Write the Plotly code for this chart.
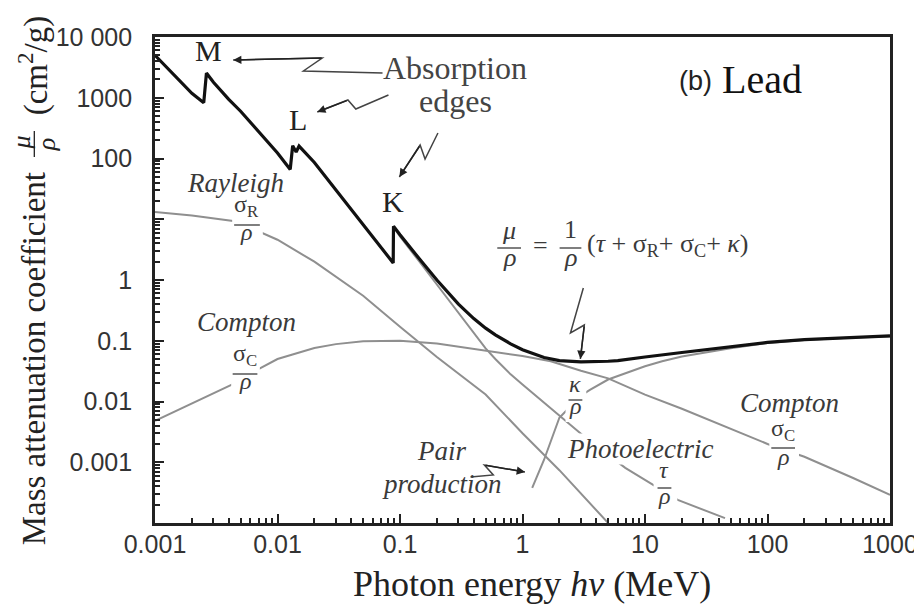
import plotly.graph_objects as go

# ---------------- data ----------------
E_total = [0.001, 0.0015, 0.002, 0.0025, 0.00263, 0.003, 0.004, 0.005, 0.006, 0.008, 0.01,
           0.0127, 0.0133, 0.0142, 0.0150, 0.02, 0.03, 0.04, 0.05, 0.06, 0.08, 0.088, 0.0885,
           0.1, 0.15, 0.2, 0.3, 0.4, 0.5, 0.6, 0.8, 1, 1.5, 2, 3, 4, 5, 6, 8, 10, 20, 30, 50,
           100, 200, 500, 1000]
mu_total = [5000, 2150, 1180, 830, 2550, 1800, 940, 600, 400, 205, 123,
            66, 162, 128, 160, 86, 30.3, 14.4, 8.0, 5.0, 2.42, 1.91, 7.7,
            5.55, 2.01, 1.0, 0.40, 0.232, 0.161, 0.125, 0.089, 0.071, 0.053, 0.047, 0.045, 0.045,
            0.046, 0.047, 0.050, 0.054, 0.064, 0.071, 0.080, 0.094, 0.104, 0.114, 0.12]

E_rayleigh = [0.001, 0.002, 0.0045, 0.01, 0.02, 0.05, 0.1, 0.2, 0.5, 1, 2, 5]
rayleigh = [13.2, 11.5, 9.3, 4.6, 2.0, 0.55, 0.17, 0.054, 0.013, 0.003, 0.00074, 0.0001]

E_compton = [0.001, 0.002, 0.003, 0.0045, 0.007, 0.01, 0.02, 0.03, 0.05, 0.08, 0.1, 0.2, 0.34,
             0.5, 1, 1.7, 3, 5, 10, 20, 50, 100, 200, 500, 1000]
compton = [0.0048, 0.0093, 0.014, 0.020, 0.034, 0.050, 0.076, 0.088, 0.098, 0.101, 0.100, 0.090,
           0.077, 0.068, 0.056, 0.046, 0.032, 0.024, 0.013, 0.0076, 0.0036, 0.0020, 0.00123,
           0.00055, 0.00029]

E_photo = [0.0885, 0.1, 0.15, 0.2, 0.3, 0.4, 0.5, 0.6, 0.8, 1, 1.5, 2, 3.3, 6.9, 11, 18.5, 45]
photo = [7.4, 5.2, 1.8, 0.85, 0.29, 0.14, 0.075, 0.05, 0.028, 0.019, 0.0095, 0.0059, 0.0025,
         0.00081, 0.00046, 0.00024, 0.00012]

E_pair = [1.2, 1.5, 2, 3, 3.55, 5, 10, 13.8, 20, 50, 100, 200, 500, 1000]
pair = [0.00038, 0.0011, 0.0054, 0.0125, 0.0155, 0.023, 0.038, 0.046, 0.055, 0.075, 0.092,
        0.103, 0.113, 0.118]

x_tickvals = [0.001, 0.01, 0.1, 1, 10, 100, 1000]
x_ticktext = ["0.001", "0.01", "0.1", "1", "10", "100", "1000"]
y_tickvals = [1e-4, 1e-3, 1e-2, 0.1, 1, 10, 100, 1000, 10000]
y_ticktext = ["", "0.001", "0.01", "0.1", "1", "", "100", "1000", "10 000"]

# ---------------- figure ----------------
L, R, T, B = 147, 890, 29, 515
W, H = 922, 612
SERIF = "Liberation Serif, Times New Roman, serif"
SANS = "Liberation Sans, Arial, sans-serif"
GRAY = "#8f8f8f"
TXT = "#3a3a3a"
DY = -7  # visual centring correction for annotation text


def X(px):
    return (px - L) / (R - L)


def Y(py):
    return (B - py) / (B - T)


fig = go.Figure()
for xs, ys in [(E_rayleigh, rayleigh), (E_compton, compton), (E_photo, photo), (E_pair, pair)]:
    fig.add_trace(go.Scatter(x=xs, y=ys, mode="lines",
                             line=dict(color=GRAY, width=2), hoverinfo="skip"))
fig.add_trace(go.Scatter(x=E_total, y=mu_total, mode="lines",
                         line=dict(color="#111111", width=3.2), hoverinfo="skip"))

shapes = []
annotations = []


def text(t, px, py, size, color=TXT, family=SERIF, angle=0, xanchor="center", bg=None, dy=DY):
    a = dict(text=t, x=X(px), y=Y(py + dy), xref="paper", yref="paper", showarrow=False,
             xanchor=xanchor, yanchor="middle", textangle=angle,
             font=dict(family=family, size=size, color=color))
    if bg:
        a["bgcolor"] = bg
        a["borderpad"] = 0
    annotations.append(a)


def rect(x0, y0, x1, y1):
    shapes.append(dict(type="rect", xref="paper", yref="paper", x0=X(x0), x1=X(x1),
                       y0=Y(y1), y1=Y(y0), fillcolor="white", line=dict(width=0),
                       layer="above"))


def hline(x0, x1, py, color=TXT, w=1.3):
    shapes.append(dict(type="line", xref="paper", yref="paper", x0=X(x0), x1=X(x1),
                       y0=Y(py), y1=Y(py), line=dict(color=color, width=w), layer="above"))


def frac(num, den, cx, ny, by, dy, bw, size=24, color=TXT, box=None):
    if box:
        rect(*box)
    hline(cx - bw / 2, cx + bw / 2, by, color)
    text(num, cx, ny, size, color)
    text(den, cx, dy, size, color)


def zig(points, color="#444444"):
    path = "M " + " L ".join(f"{X(p[0]):.5f},{Y(p[1]):.5f}" for p in points)
    shapes.append(dict(type="path", xref="paper", yref="paper", path=path,
                       line=dict(color=color, width=1.5), layer="above"))
    tip, tail = points[-1], points[-2]
    annotations.append(dict(x=X(tip[0]), y=Y(tip[1]), xref="paper", yref="paper", text="",
                            showarrow=True, arrowhead=2, arrowsize=1.1, arrowwidth=1.5,
                            arrowcolor="#222222", ax=tail[0] - tip[0], ay=tail[1] - tip[1],
                            standoff=0))


# edge letters
text("M", 201, 49, 30, "#222222")
text("L", 292, 118, 30, "#222222")
text("K", 388, 201, 30, "#222222")
text("Absorption", 450, 67, 32, "#444444")
text("edges", 451, 100, 32, "#444444")
text("(b)", 693, 80, 27, "#222222", family=SANS)
text("Lead", 761, 78, 40, "#111111")

# arrows
zig([(377, 65), (297, 63), (316, 50), (226, 52)])
zig([(383, 87), (350, 101), (342, 92), (311, 104)])
zig([(433, 125), (420, 151), (415, 137), (394, 169)])
zig([(580, 280), (567, 325), (581, 317), (577, 351)])
zig([(466, 469), (489, 467), (480, 457), (521, 464)])

# curve labels
text("<i>Rayleigh</i>", 228, 182, 27)
frac("σ<sub>R</sub>", "<i>ρ</i>", 240, 205, 217, 231, 26, box=(225, 195, 256, 240))
text("<i>Compton</i>", 240, 321, 27)
frac("σ<sub>C</sub>", "<i>ρ</i>", 238, 354, 366, 380, 25, box=(224, 342, 253, 388))
frac("<i>κ</i>", "<i>ρ</i>", 572, 383, 392, 405, 14, box=(562, 371, 583, 414))
text("<i>Compton</i>", 788, 402, 27)
frac("σ<sub>C</sub>", "<i>ρ</i>", 782, 429, 440, 456, 24, box=(768, 418, 798, 466))
text("<i>Photoelectric</i>", 637, 448, 27, bg="white")
frac("<i>τ</i>", "<i>ρ</i>", 662, 469, 480, 495, 14, box=(651, 458, 675, 504))
text("<i>Pair</i>", 437, 450, 27)
text("<i>production</i>", 437, 483, 27)

# formula
frac("<i>μ</i>", "<i>ρ</i>", 505, 229, 240, 256, 24, size=26)
text("=", 537, 244, 26)
frac("1", "<i>ρ</i>", 567, 228, 240, 256, 22, size=26)
text("(<i>τ</i> + σ<sub>R</sub>+ σ<sub>C</sub>+ <i>κ</i>)", 582, 244, 26, xanchor="left")

# axis titles
text("Photon energy <i>hν</i> (MeV)", 528, 580, 36, "#222222", dy=-4)
text("Mass attenuation coefficient", 25, 351, 33, "#222222", angle=-90, dy=0)
text("<i>μ</i>", 12, 134, 26, "#222222", angle=-90, dy=0)
text("<i>ρ</i>", 37, 137, 26, "#222222", angle=-90, dy=0)
shapes.append(dict(type="line", xref="paper", yref="paper", x0=X(25), x1=X(25),
                   y0=Y(123), y1=Y(149), line=dict(color="#222222", width=1.3)))
text("(cm<sup>2</sup>/g)", 25, 57, 33, "#222222", angle=-90, dy=0)

minor_x = [m * 10 ** k for k in range(-3, 3) for m in range(2, 10)]
minor_y = [m * 10 ** k for k in range(-4, 4) for m in range(2, 10)]

axis_common = dict(type="log", showline=True, linewidth=2.8, linecolor="#222222", mirror=True,
                   ticks="inside", ticklen=9, tickwidth=2, tickcolor="#222222",
                   showgrid=False, zeroline=False, tickmode="array",
                   tickfont=dict(family=SANS, size=25, color="#333333"))

fig.update_layout(
    width=W, height=H,
    margin=dict(l=L, r=W - R, t=T, b=H - B),
    paper_bgcolor="white", plot_bgcolor="white",
    showlegend=False,
    xaxis=dict(range=[-3, 3], tickvals=x_tickvals, ticktext=x_ticktext,
               ticklabelstandoff=-3,
               minor=dict(ticks="inside", ticklen=5, tickwidth=1.5, tickcolor="#222222",
                          tickmode="array", tickvals=minor_x, showgrid=False),
               **axis_common),
    yaxis=dict(range=[-4, 4], tickvals=y_tickvals, ticktext=y_ticktext,
               ticklabelstandoff=15,
               minor=dict(ticks="inside", ticklen=5, tickwidth=1.5, tickcolor="#222222",
                          tickmode="array", tickvals=minor_y, showgrid=False),
               **axis_common),
    shapes=shapes,
    annotations=annotations,
)

fig.write_html("out.html")
